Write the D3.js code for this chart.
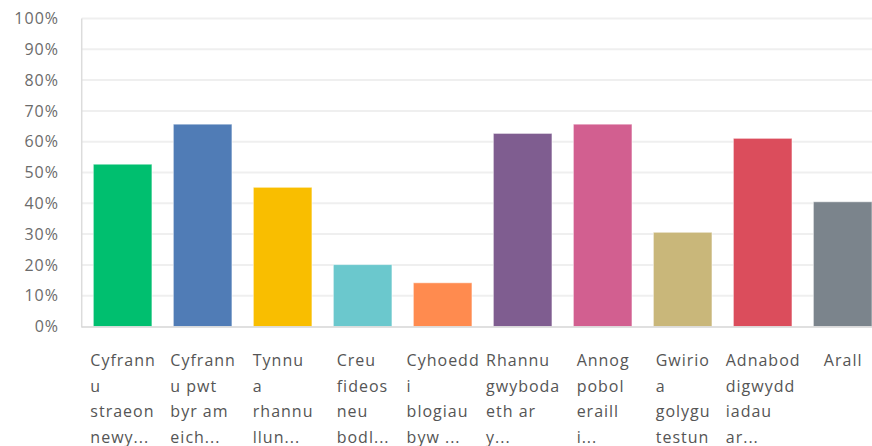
<!DOCTYPE html>
<html>
<head>
<meta charset="utf-8">
<script src="https://cdn.jsdelivr.net/npm/d3@7"></script>
<style>
  html, body { margin: 0; padding: 0; background: #fff; }
  svg { display: block; }
  text { font-family: "Open Sans", Roboto, sans-serif; }
</style>
</head>
<body>
<svg id="chart" width="872" height="446"></svg>
<script>
const categories = [
  ["Cyfrann", "u", "straeon", "newy..."],
  ["Cyfrann", "u pwt", "byr am", "eich..."],
  ["Tynnu", "a", "rhannu", "llun..."],
  ["Creu", "fideos", "neu", "bodl..."],
  ["Cyhoedd", "i", "blogiau", "byw ..."],
  ["Rhannu", "gwyboda", "eth ar", "y..."],
  ["Annog", "pobol", "eraill", "i..."],
  ["Gwirio", "a", "golygu", "testun"],
  ["Adnabod", "digwydd", "iadau", "ar..."],
  ["Arall"]
];
const values = [52.7, 65.7, 45.2, 20.1, 14.2, 62.7, 65.7, 30.6, 61.1, 40.5];
const colors = ["#00bf6f", "#507cb6", "#f9be00", "#6bc8cd", "#ff8b4f", "#7f5d90", "#d25f90", "#c9b77a", "#db4d5c", "#7b848c"];
const yTicks = [0, 10, 20, 30, 40, 50, 60, 70, 80, 90, 100];

const svg = d3.select("#chart");
const mLeft = 81.7, mRight = 883.6, mTop = 18.5, mBottom = 326.5;

const x = d3.scaleBand()
  .domain(d3.range(values.length))
  .range([mLeft, mRight])
  .paddingInner(0.267)
  .paddingOuter(0.145);

const y = d3.scaleLinear().domain([0, 100]).range([mBottom, mTop]);

// gridlines
svg.append("g")
  .selectAll("line")
  .data(yTicks.filter(d => d > 0))
  .join("line")
  .attr("x1", mLeft).attr("x2", 872)
  .attr("y1", d => y(d)).attr("y2", d => y(d))
  .attr("stroke", "#efefef").attr("stroke-width", 2);

// y axis labels
const yAxis = d3.axisLeft(y).tickValues(yTicks).tickFormat(d => d + "%").tickSize(0).tickPadding(0);
const gy = svg.append("g").attr("transform", `translate(59,0)`).call(yAxis);
gy.select(".domain").remove();
gy.selectAll("text")
  .attr("fill", "#6b6b6b")
  .attr("font-size", 16)
  .attr("font-family", "'Open Sans', Roboto, sans-serif")
  .style("letter-spacing", "1px")
  .attr("x", 0);

// bars
svg.append("g")
  .selectAll("rect")
  .data(values)
  .join("rect")
  .attr("x", (d, i) => x(i))
  .attr("y", d => y(d))
  .attr("width", x.bandwidth())
  .attr("height", d => y(0) - y(d))
  .attr("fill", (d, i) => colors[i])
  .attr("stroke", "rgba(255,255,255,0.55)")
  .attr("stroke-width", 1);

// axis lines
svg.append("line")
  .attr("x1", mLeft).attr("x2", mLeft)
  .attr("y1", mTop).attr("y2", mBottom + 1)
  .attr("stroke", "#dcdcdc").attr("stroke-width", 1.5);
svg.append("line")
  .attr("x1", mLeft).attr("x2", 872)
  .attr("y1", mBottom + 0.5).attr("y2", mBottom + 0.5)
  .attr("stroke", "#d6d6d6").attr("stroke-width", 1.5);

// x labels: left-aligned lines inside a block centred under each bar
const xl = svg.append("g")
  .selectAll("text")
  .data(categories)
  .join("text")
  .attr("y", 366)
  .attr("fill", "#555")
  .attr("font-size", 16)
  .style("letter-spacing", "1px");
xl.selectAll("tspan")
  .data(d => d)
  .join("tspan")
  .attr("dy", (d, i) => i === 0 ? 0 : 25.5)
  .text(d => d);
xl.each(function(d, i) {
  const spans = d3.select(this).selectAll("tspan");
  let maxW = 0;
  spans.each(function() { maxW = Math.max(maxW, this.getComputedTextLength() - 1); });
  const x0 = x(i) + x.bandwidth() / 2 - maxW / 2;
  spans.attr("x", x0);
});
</script>
</body>
</html>
